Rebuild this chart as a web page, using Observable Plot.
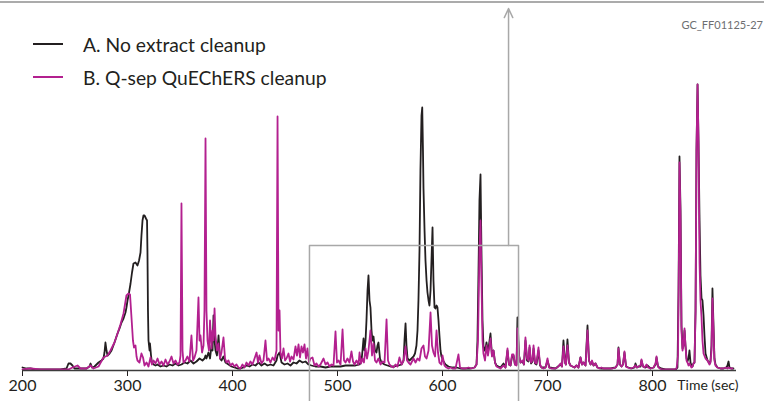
<!DOCTYPE html>
<html>
<head>
<meta charset="utf-8">
<script src="https://cdn.jsdelivr.net/npm/d3@7"></script>
<script src="https://cdn.jsdelivr.net/npm/@observablehq/plot@0.6"></script>
<style>
  body { margin: 0; background: #fff; }
  #wrap { position: relative; width: 764px; height: 401px; overflow: hidden;
          font-family: Lato, "Liberation Sans", sans-serif; color: #231f20; }
  #wrap svg { position: absolute; left: 0; top: 0; }
  .topline { position: absolute; left: 0; top: 1px; width: 764px; height: 2px; background: #ababab; }
  .code { position: absolute; right: 1px; top: 18px; font-size: 11px; color: #6d6e71; }
  .item { position: absolute; left: 33px; height: 24px; display: flex; align-items: center; font-size: 19.3px; }
  .item .swatch { width: 30px; height: 2px; margin-right: 20px; }
</style>
</head>
<body>
<div id="wrap">
  <div class="topline"></div>
  <div class="code">GC_FF01125-27</div>
</div>
<script>
// Series labels and colours
const seriesNames = ["A. No extract cleanup", "B. Q-sep QuEChERS cleanup"];
const seriesColors = ["#231f20", "#b3208f"];

// Axis ticks (retention time, s)
const timeTicks = [200, 300, 400, 500, 600, 700, 800];

// Zoomed window shown by the grey bracket (s, abundance)
const zoomWindow = [473.3, 672.4];
const zoomTop = [125];
const arrowTime = [662.9];
const arrowTip = [362];

// A. No extract cleanup: [time (s), abundance]
const traceA = [
  [200.0,3],[203.8,2],[207.6,2],[212.4,1],[217.1,1],[226.7,1],[236.2,1],[241.9,2],[243.8,7],[245.7,7],
  [247.6,5],[249.5,2],[255.2,2],[261.0,2],[263.8,4],[264.8,7],[266.2,3],[268.6,4],[272.4,8],[275.2,10],
  [277.1,12],[278.1,18],[279.0,28],[280.0,20],[281.0,15],[282.9,17],[284.8,20],[287.6,28],[290.5,37],[292.4,42],
  [294.3,48],[296.2,52],[298.1,58],[299.0,63],[300.0,70],[301.0,75],[302.9,87],[304.3,98],[305.7,107],[307.6,108],
  [309.5,105],[311.0,110],[312.4,118],[313.3,135],[314.3,150],[315.2,155],[316.2,155],[317.6,152],[318.6,150],[319.0,120],
  [319.5,60],[320.0,30],[321.0,20],[321.4,27],[322.4,15],[323.3,8],[324.8,6],[326.7,5],[328.6,6],[331.4,4],
  [334.3,5],[337.1,4],[340.0,6],[342.9,5],[345.7,7],[348.6,5],[351.4,6],[354.3,8],[357.1,7],[360.0,10],
  [362.9,7],[365.7,9],[368.6,12],[371.4,10],[373.3,12],[374.3,15],[375.2,12],[377.1,18],[378.6,12],[380.0,25],
  [381.0,20],[381.9,55],[382.9,30],[383.8,20],[385.2,15],[386.7,35],[388.1,12],[389.5,10],[391.4,14],[393.3,8],
  [396.2,6],[399.0,4],[401.9,3],[404.8,2],[407.6,2],[410.5,3],[413.3,5],[416.2,4],[419.0,6],[421.9,5],
  [424.8,8],[427.6,5],[430.5,7],[433.3,5],[436.2,6],[439.0,5],[441.9,10],[442.9,15],[444.8,18],[446.7,8],
  [449.5,6],[452.4,7],[455.2,5],[458.1,8],[461.0,7],[463.8,10],[466.7,8],[469.5,9],[472.4,6],[475.2,5],
  [479.0,4],[483.8,4],[488.6,3],[493.3,4],[498.1,4],[502.9,4],[507.6,5],[512.4,5],[517.1,5],[521.0,6],
  [522.9,10],[523.8,20],[524.8,32],[525.7,20],[526.7,30],[527.6,50],[528.6,80],[529.5,95],[530.5,70],[531.4,63],
  [532.4,40],[533.3,30],[534.3,34],[535.7,20],[537.1,18],[538.1,25],[539.0,28],[540.5,12],[541.9,8],[544.8,6],
  [547.6,5],[550.5,4],[554.3,4],[558.1,5],[561.0,6],[562.9,10],[563.8,30],[564.8,47],[565.7,25],[566.7,12],
  [568.6,10],[570.5,12],[572.4,14],[573.8,17],[575.2,25],[576.2,40],[577.1,70],[578.1,120],[579.0,200],[580.0,255],
  [580.7,263],[581.4,220],[581.9,182],[582.9,140],[583.8,110],[584.8,90],[585.7,78],[586.7,70],[587.6,65],[588.6,80],
  [589.5,110],[590.5,143],[591.4,90],[592.4,63],[593.3,62],[594.3,65],[595.2,63],[596.2,50],[597.1,35],[598.1,20],
  [599.0,14],[601.0,9],[602.9,6],[605.7,4],[609.5,3],[613.3,3],[617.1,2],[621.9,2],[626.7,2],[630.5,3],
  [632.4,6],[633.3,30],[634.3,100],[635.2,170],[636.2,196],[637.1,120],[638.1,50],[639.0,25],[640.0,20],[641.0,22],
  [641.9,28],[643.3,18],[644.8,30],[645.7,37],[647.1,15],[648.6,20],[650.0,8],[651.4,5],[653.3,4],[655.2,3],
  [658.1,7],[660.0,3],[661.9,20],[663.3,6],[664.8,5],[666.2,14],[667.6,15],[669.0,6],[670.5,6],[671.4,53],
  [672.9,15],[674.3,8],[676.2,9],[677.6,6],[679.0,30],[680.5,10],[681.9,9],[682.9,23],[684.3,7],[685.7,9],
  [686.7,22],[688.1,7],[689.5,6],[691.4,20],[692.9,5],[694.3,3],[698.1,3],[700.0,10],[701.9,3],[707.6,2],
  [712.4,6],[713.8,4],[715.2,30],[716.7,8],[717.6,6],[719.0,31],[720.5,8],[721.9,5],[723.8,4],[725.7,3],
  [727.6,5],[729.5,3],[731.4,13],[732.9,6],[734.3,8],[736.2,5],[738.1,45],[739.5,10],[741.0,6],[742.4,9],
  [743.8,5],[745.7,7],[747.6,3],[750.5,2],[755.2,2],[760.0,2],[764.8,3],[766.7,6],[767.6,23],[769.0,6],
  [770.5,4],[771.9,6],[773.3,18],[774.8,4],[777.1,3],[780.0,2],[782.9,3],[783.8,7],[785.2,3],[786.7,4],
  [788.6,4],[789.5,10],[791.0,4],[793.3,3],[795.2,5],[798.1,2],[801.0,3],[802.9,6],[803.8,13],[805.2,4],
  [808.1,2],[812.4,1],[817.1,1],[821.9,1],[823.8,3],[824.8,80],[825.7,214],[826.7,160],[827.6,45],[828.6,22],
  [829.5,25],[830.5,40],[831.4,25],[832.4,12],[833.3,9],[834.3,12],[835.2,20],[836.2,8],[837.1,5],[838.1,4],
  [839.0,7],[840.0,8],[841.0,60],[841.9,220],[842.9,286],[843.8,230],[844.8,150],[845.7,95],[846.7,72],[847.6,70],
  [848.6,55],[849.5,35],[850.5,17],[852.4,10],[854.3,7],[855.2,9],[856.2,25],[857.1,82],[858.1,45],[859.0,12],
  [860.0,6],[861.9,3],[864.8,2],[867.6,2],[870.5,3],[871.4,5],[872.4,9],[873.3,3],[875.2,2],[877.1,2]
];

// B. Q-sep QuEChERS cleanup: [time (s), abundance]
const traceB = [
  [200.0,1],[207.6,2],[217.1,1],[226.7,1],[236.2,1],[243.8,1],[247.6,3],[252.4,5],[255.2,2],[261.0,2],
  [264.8,5],[267.6,2],[272.4,4],[277.1,13],[281.0,15],[283.8,20],[287.6,28],[290.5,37],[293.3,46],[296.2,57],
  [299.0,75],[301.0,77],[302.4,76],[303.8,53],[305.2,30],[306.2,23],[307.6,25],[308.6,14],[309.5,10],[311.4,8],
  [313.3,17],[314.8,13],[316.2,5],[318.1,8],[320.0,4],[321.9,13],[323.3,6],[324.8,10],[326.7,7],[328.6,12],
  [330.5,6],[332.4,9],[334.3,5],[336.2,11],[338.1,6],[340.0,9],[341.9,14],[343.8,7],[345.7,10],[347.6,6],
  [349.5,8],[350.5,15],[351.4,167],[352.4,20],[353.3,8],[355.2,10],[357.1,14],[359.0,9],[360.9,35],[362.4,10],
  [363.8,13],[365.7,20],[367.6,73],[368.6,30],[369.5,35],[371.0,18],[372.4,25],[373.3,60],[374.3,232],[375.2,60],
  [376.2,30],[377.6,20],[378.6,50],[380.0,22],[381.0,40],[381.9,30],[382.9,62],[383.8,35],[385.2,20],[386.7,27],
  [388.1,12],[389.5,18],[391.4,33],[392.9,12],[394.3,8],[396.2,10],[398.1,5],[400.0,7],[401.9,4],[403.8,6],
  [405.7,3],[407.6,2],[409.5,6],[411.4,3],[413.3,8],[415.2,5],[417.1,9],[419.0,6],[421.0,12],[422.9,18],
  [424.3,8],[425.7,15],[427.6,7],[429.5,10],[431.4,30],[432.9,10],[434.3,12],[436.2,8],[438.1,13],[440.0,10],
  [441.9,20],[442.9,254],[443.8,40],[444.8,60],[445.7,18],[447.1,12],[448.6,22],[450.0,10],[451.4,12],[453.3,17],
  [454.8,9],[456.2,14],[458.1,11],[460.0,24],[461.4,15],[462.9,26],[464.3,13],[465.7,24],[467.1,18],[468.6,26],
  [470.0,12],[471.4,22],[472.9,8],[474.3,12],[476.2,13],[478.1,5],[480.0,7],[481.9,4],[483.8,6],[486.7,12],
  [488.6,6],[490.5,8],[492.4,4],[494.3,6],[496.2,5],[498.1,39],[499.5,8],[501.0,10],[502.9,6],[504.8,41],
  [506.2,10],[507.6,8],[509.5,12],[511.4,8],[513.3,19],[514.8,9],[516.2,6],[518.1,10],[520.0,6],[521.0,18],
  [522.4,7],[523.8,12],[525.2,8],[526.7,22],[528.1,12],[529.5,20],[531.4,40],[532.9,15],[534.3,27],[535.7,10],
  [537.1,8],[539.0,12],[541.0,6],[542.9,9],[544.8,8],[546.7,51],[548.1,10],[549.5,6],[551.4,4],[553.3,3],
  [555.2,6],[557.1,4],[559.0,13],[561.0,6],[562.9,10],[564.8,24],[566.2,10],[567.6,8],[569.5,6],[572.4,12],
  [574.3,8],[576.2,12],[578.1,10],[580.0,22],[581.9,25],[583.3,14],[584.8,12],[586.7,20],[588.6,58],[590.0,25],
  [591.4,18],[592.9,14],[594.3,40],[595.7,18],[597.1,8],[599.0,6],[600.0,15],[601.9,5],[603.8,3],[605.7,2],
  [607.6,3],[609.5,2],[612.4,2],[615.2,16],[616.7,3],[619.0,2],[621.9,2],[624.8,3],[627.6,2],[630.5,3],
  [632.4,6],[633.8,30],[635.2,120],[636.2,150],[637.1,90],[638.1,30],[639.0,17],[640.5,10],[641.9,25],[643.3,15],
  [644.8,25],[645.7,32],[647.1,14],[648.6,20],[650.0,8],[651.4,4],[653.3,3],[655.2,2],[658.1,5],[660.0,3],
  [661.9,22],[663.3,6],[664.8,5],[666.2,16],[667.6,16],[669.0,6],[670.5,5],[671.4,42],[672.9,14],[674.3,8],
  [676.2,10],[677.6,6],[679.0,33],[680.5,12],[681.9,10],[682.9,25],[684.3,8],[685.7,10],[686.7,25],[688.1,8],
  [689.5,7],[691.4,23],[692.9,6],[694.3,3],[696.2,2],[698.1,3],[700.0,12],[701.4,3],[703.8,2],[706.7,2],
  [709.5,3],[712.4,7],[713.8,4],[715.2,24],[716.7,8],[717.6,6],[719.0,25],[720.5,8],[721.9,5],[723.8,4],
  [725.7,3],[727.6,5],[729.5,3],[731.4,13],[732.9,6],[734.3,8],[736.2,5],[738.1,40],[739.5,10],[741.0,6],
  [742.4,10],[743.8,5],[745.7,7],[747.6,3],[749.5,2],[751.4,3],[753.3,2],[756.2,2],[759.0,2],[761.9,2],
  [764.8,3],[766.7,6],[767.6,22],[769.0,6],[770.5,4],[771.9,6],[773.3,19],[774.8,4],[776.2,3],[779.0,2],
  [781.9,3],[783.8,5],[785.2,3],[786.7,4],[788.6,5],[789.5,11],[791.0,4],[792.4,3],[794.3,6],[795.7,3],
  [798.1,2],[801.0,3],[802.9,7],[803.8,14],[805.2,4],[806.7,2],[809.5,1],[813.3,1],[817.1,1],[821.0,1],
  [822.9,2],[824.3,15],[825.2,120],[825.7,208],[826.7,150],[827.6,40],[828.6,20],[829.5,25],[830.5,42],[831.4,25],
  [832.4,10],[833.3,8],[834.3,5],[835.2,7],[836.2,5],[837.1,3],[838.1,4],[839.0,7],[840.0,8],[841.0,60],
  [841.9,220],[842.9,286],[843.8,230],[844.8,108],[845.7,70],[846.7,53],[847.6,30],[848.6,17],[850.5,12],[852.4,10],
  [854.3,6],[855.2,8],[856.2,20],[857.1,72],[858.1,40],[859.0,10],[860.0,5],[861.9,3],[864.8,2],[867.6,2],
  [869.5,3],[871.4,2],[872.4,3],[874.3,2],[876.2,2]
];

const fontStack = 'Lato, "Liberation Sans", sans-serif';

// Outline of the zoom bracket: two sides dropping below the axis, joined at the top
const bracket = [
  [zoomWindow[0], -31], [zoomWindow[0], zoomTop[0]],
  [zoomWindow[1], zoomTop[0]], [zoomWindow[1], -31]
];

const chart = Plot.plot({
  width: 764,
  height: 401,
  marginLeft: 22,
  marginRight: 28,
  marginTop: 70,
  marginBottom: 31,
  style: { fontFamily: fontStack, fontSize: "16px", color: "#231f20", background: "transparent", overflow: "visible" },
  x: { domain: [200, 880], ticks: timeTicks, tickSize: 6, tickPadding: 3, label: null },
  y: { domain: [0, 300], axis: null },
  marks: [
    Plot.line(traceA, { x: d => d[0], y: d => d[1], stroke: seriesColors[0], strokeWidth: 1.8, strokeLinejoin: "round" }),
    Plot.line(traceB, { x: d => d[0], y: d => d[1], stroke: seriesColors[1], strokeWidth: 1.8, strokeLinejoin: "round" }),
    Plot.ruleY([0], { stroke: "#3c3c3c", strokeWidth: 1.3 }),
    Plot.line(bracket, { x: d => d[0], y: d => d[1], stroke: "#a8a8a8", strokeWidth: 1.5 }),
    Plot.arrow(arrowTime, {
      x1: d => d, x2: d => d, y1: zoomTop[0], y2: arrowTip[0],
      stroke: "#a8a8a8", strokeWidth: 1.5, headLength: 10, headAngle: 50
    }),
    Plot.text(["Time (sec)"], { frameAnchor: "bottom-right", textAnchor: "end", dx: 2, dy: 19, fontSize: 14, fill: "#231f20" })
  ]
});

const wrap = document.getElementById("wrap");
wrap.prepend(chart);

// Legend
const legendTops = [32, 65];
seriesNames.forEach((name, i) => {
  const item = document.createElement("div");
  item.className = "item";
  item.style.top = legendTops[i] + "px";
  const sw = document.createElement("span");
  sw.className = "swatch";
  sw.style.background = seriesColors[i];
  const label = document.createElement("span");
  label.textContent = name;
  item.append(sw, label);
  wrap.append(item);
});
</script>
</body>
</html>
